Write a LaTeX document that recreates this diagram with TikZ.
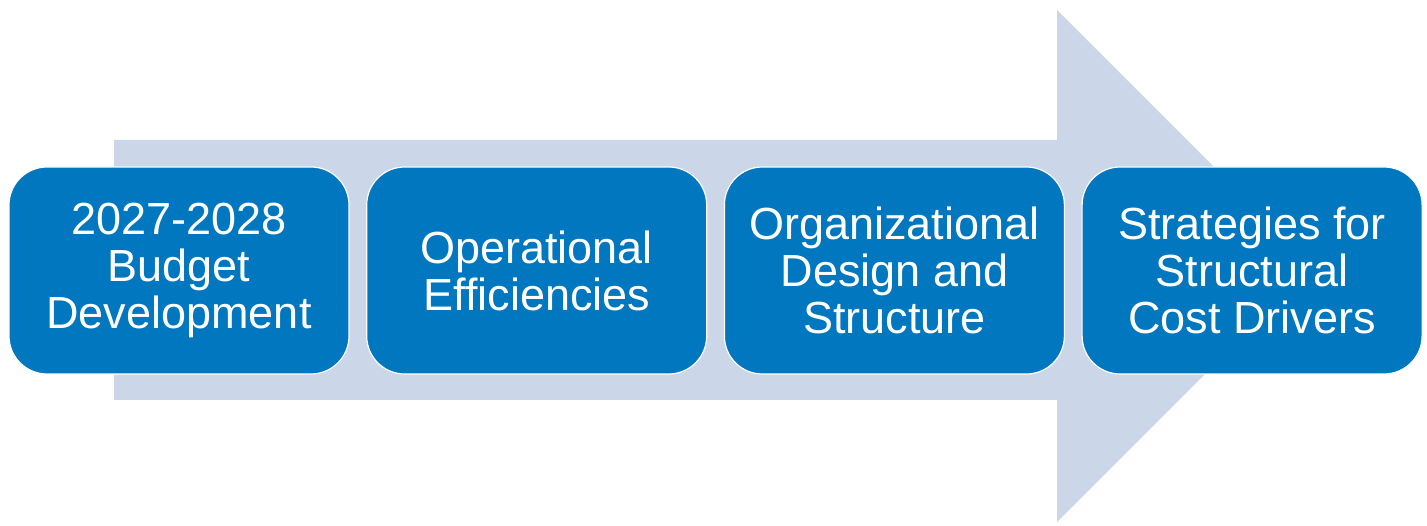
\documentclass[tikz,border=0pt]{standalone}
\usepackage{fontspec}
\setmainfont{Liberation Sans}
\usetikzlibrary{positioning}
\definecolor{stepblue}{RGB}{0,119,190}
\definecolor{arrowgray}{RGB}{203,214,232}
\begin{document}
\begin{tikzpicture}[x=1pt,y=1pt,
		stagebox/.style={draw=white, line width=1.2pt, fill=stepblue, rounded corners=38pt,
			minimum width=340pt, minimum height=207pt, text=white, align=center,
			inner sep=0pt, font=\fontsize{45}{47}\selectfont}]
			\useasboundingbox (0,0) rectangle (1427,525);

			\fill [arrowgray] (114,125) -- (114,385) -- (1057,385) -- (1057,515) -- (1313,259) -- (1057,3) -- (1057,125) -- cycle;

			\node [stagebox] (b1) at (179,254.5) {2027-2028\\Budget\\Development};
			\node [stagebox, right=16.5pt of b1] (b2) {Operational\\Efficiencies};
			\node [stagebox, right=16.5pt of b2] (b3) {Organizational\\Design and\\Structure};
			\node [stagebox, right=16.5pt of b3] (b4) {Strategies for\\Structural\\Cost Drivers};
		\end{tikzpicture}
\end{document}
